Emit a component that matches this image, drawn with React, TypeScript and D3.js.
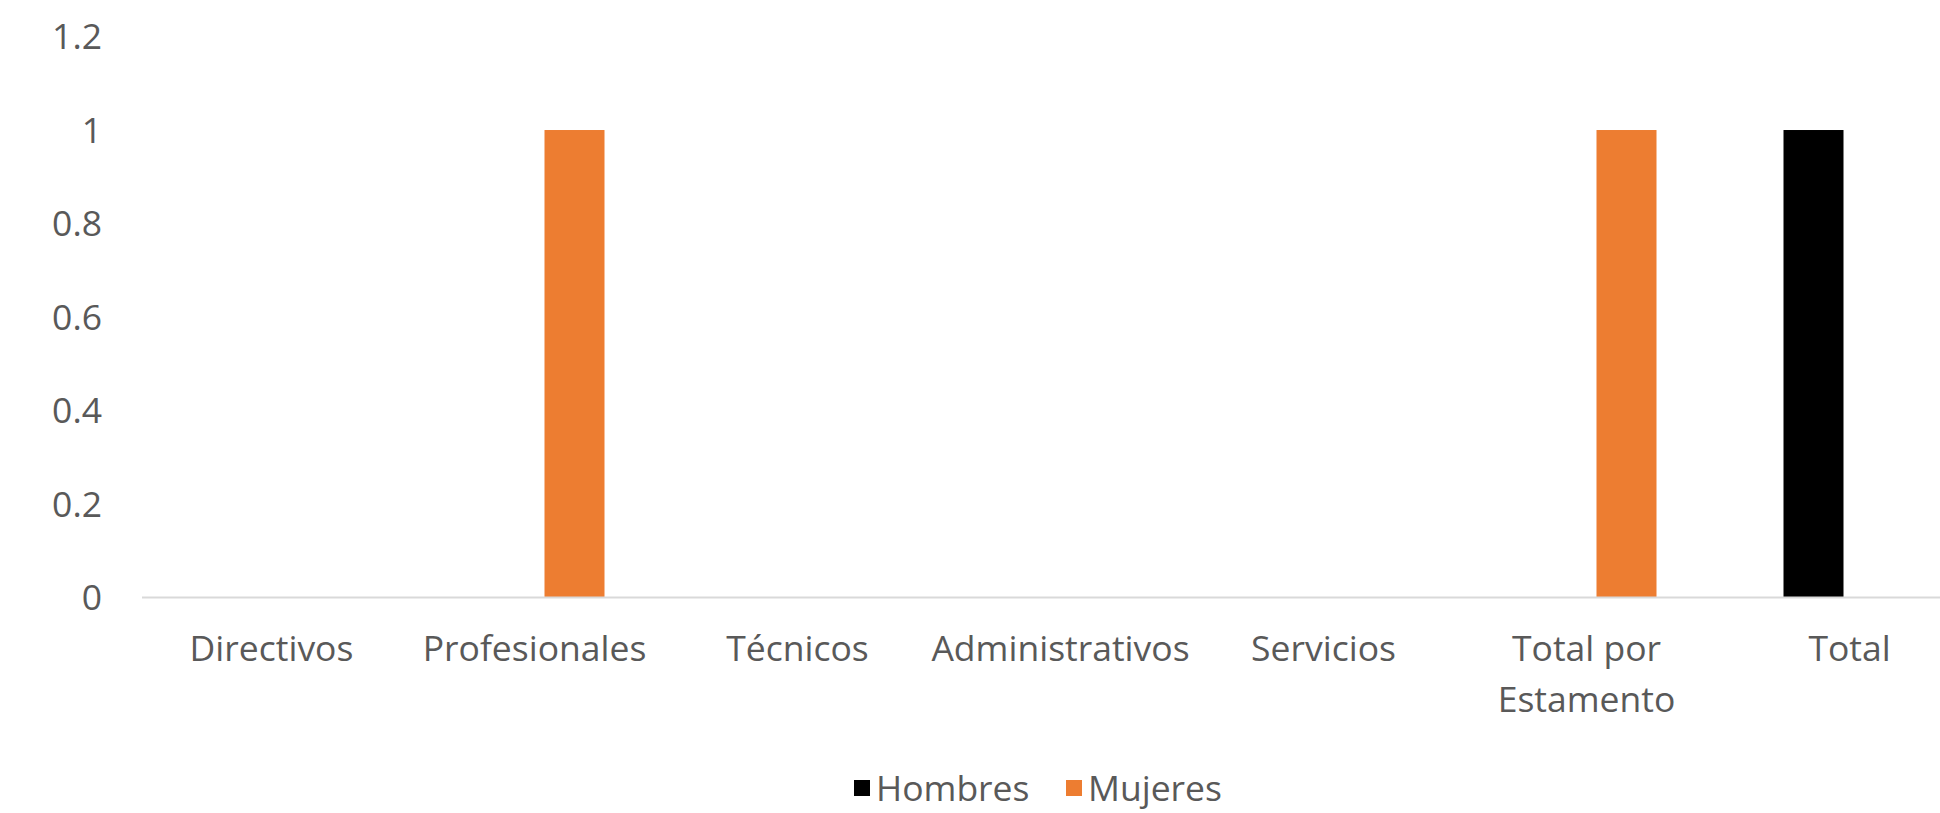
import React from "react";
import * as d3 from "d3";

const categories = ["Directivos", "Profesionales", "Técnicos", "Administrativos", "Servicios", "Total por Estamento", "Total"];
const seriesNames = ["Hombres", "Mujeres"];
const hombres = [0, 0, 0, 0, 0, 0, 1];
const mujeres = [0, 1, 0, 0, 0, 1, 0];
const yTicks = [0, 0.2, 0.4, 0.6, 0.8, 1, 1.2];
const colors = ["#000000", "#ED7D31"];

const W = 1940;
const H = 813;
const FONT = "'Open Sans', 'Noto Sans', sans-serif";
const FS = 35.5;
const TEXT = "#595959";

function measure(text: string): number {
  const c = document.createElement("canvas").getContext("2d");
  if (!c) return text.length * FS * 0.5;
  c.font = `${FS}px 'Open Sans'`;
  return c.measureText(text).width;
}

function wrap(text: string, maxW: number): string[] {
  const words = text.split(" ");
  const lines: string[] = [];
  let cur = "";
  for (const w of words) {
    const t = cur ? cur + " " + w : w;
    if (cur && measure(t) > maxW) {
      lines.push(cur);
      cur = w;
    } else cur = t;
  }
  if (cur) lines.push(cur);
  return lines;
}

export default function App() {
  const x = d3.scaleBand<string>().domain(categories).range([140, 1981]).padding(0);
  const bw = x.bandwidth();
  const inner = d3.scaleBand<string>().domain(seriesNames).range([bw / 2 - 66, bw / 2 + 70]).paddingInner(16 / 76);
  const y = d3.scaleLinear().domain([0, 1.2]).range([597.6, 36.5]);
  const values = [hombres, mujeres];

  return (
    <svg width={W} height={H} style={{ position: "absolute", left: 0, top: 0, background: "#fff" }} fontFamily={FONT}>
      <rect x={0} y={0} width={W} height={H} fill="#fff" />
      {yTicks.map((t) => (
        <text key={t} x={102} y={y(t) + 12.5} textAnchor="end" fontSize={FS} fill={TEXT}>
          {String(t)}
        </text>
      ))}
      {values.map((vals, si) =>
        categories.map((c, ci) => {
          const v = vals[ci];
          if (!v) return null;
          const x0 = (x(c) as number) + (inner(seriesNames[si]) as number);
          return (
            <rect key={si + "-" + ci} x={x0} y={y(v)} width={inner.bandwidth()} height={y(0) - y(v)} fill={colors[si]} />
          );
        })
      )}
      <line x1={142} x2={W} y1={y(0)} y2={y(0)} stroke="#d9d9d9" strokeWidth={2} />
      {categories.map((c) => {
        const lines = wrap(c, bw);
        const cx = (x(c) as number) + bw / 2;
        return (
          <text key={c} textAnchor="middle" fontSize={FS} fill={TEXT}>
            {lines.map((l, i) => (
              <tspan key={i} x={cx} y={661 + i * 51}>
                {l}
              </tspan>
            ))}
          </text>
        );
      })}
      {seriesNames.map((s, i) => {
        const lx = i === 0 ? 854 : 1066;
        return (
          <g key={s}>
            <rect x={lx} y={780} width={16} height={16} fill={colors[i]} />
            <text x={lx + 22} y={801} fontSize={FS} fill={TEXT}>
              {s}
            </text>
          </g>
        );
      })}
    </svg>
  );
}
